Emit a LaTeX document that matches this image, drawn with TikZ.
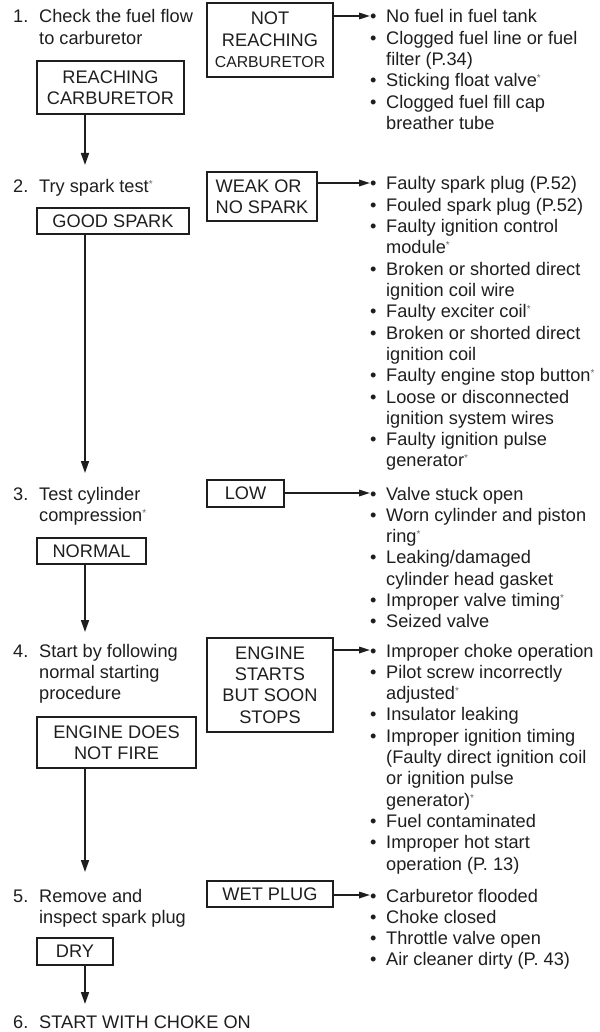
\documentclass[tikz,border=0pt]{standalone}
\usepackage{fontspec}
\setmainfont{Liberation Sans}
\usetikzlibrary{arrows.meta}
\definecolor{ink}{HTML}{1E1E1E}
\newcommand{\stsup}{\raisebox{5pt}{\textcolor{black!60}{\fontsize{10}{10}\selectfont *}}}
\newcommand{\snum}[1]{\makebox[26pt][l]{#1}}
\newcommand{\bl}{\makebox[16pt][l]{\textbullet}}
\begin{document}
\begin{tikzpicture}[x=1pt,y=-1pt,
  txt/.style={inner sep=0pt, text=ink, font=\fontsize{18.2}{21.3}\selectfont},
  box/.style={draw=ink, line width=1.9pt, inner sep=0pt, align=center, text=ink,
              font=\fontsize{18.2}{21.3}\selectfont},
  varr/.style={draw=ink, line width=1.6pt, -{Triangle[length=12pt,width=8pt]}},
  harr/.style={draw=ink, line width=1.6pt, -{Triangle[length=11pt,width=6.5pt]}}]
\useasboundingbox (0,0) rectangle (599,1032);

% ---------- step texts ----------
\node[txt, anchor=base west] (s1) at (13,23) {\begin{tabular}[t]{@{}l@{}l@{}}\snum{1.} & Check the fuel flow\\ & to carburetor\end{tabular}};
\node[txt, anchor=base west] (s2) at (13,193) {\begin{tabular}[t]{@{}l@{}l@{}}\snum{2.} & Try spark test\stsup\end{tabular}};
\node[txt, anchor=base west] (s3) at (13,500) {\begin{tabular}[t]{@{}l@{}l@{}}\snum{3.} & Test cylinder\\ & compression\stsup\end{tabular}};
\node[txt, anchor=base west] (s4) at (13,657) {\begin{tabular}[t]{@{}l@{}l@{}}\snum{4.} & Start by following\\ & normal starting\\ & procedure\end{tabular}};
\node[txt, anchor=base west] (s5) at (13,902) {\begin{tabular}[t]{@{}l@{}l@{}}\snum{5.} & Remove and\\ & inspect spark plug\end{tabular}};
\node[txt, anchor=base west] (s6) at (13,1028) {\snum{6.}START WITH CHOKE ON};

% ---------- left boxes ----------
\node[box, minimum width=147pt, minimum height=53pt] (reach) at (110.5,87.5) {REACHING\\CARBURETOR};
\node[box, minimum width=152pt, minimum height=26pt] (good) at (113,221) {GOOD SPARK};
\node[box, minimum width=109pt, minimum height=26pt] (normal) at (91.5,551) {NORMAL};
\node[box, minimum width=159pt, minimum height=51pt] (notfire) at (116.5,742.5) {ENGINE DOES\\NOT FIRE};
\node[box, minimum width=76pt, minimum height=27pt] (dry) at (75,951.5) {DRY};

% ---------- middle boxes ----------
\node[box, minimum width=126pt, minimum height=74pt] (notreach) at (270,40) {NOT\\REACHING\\{\fontsize{15.8}{18}\selectfont CARBURETOR}};
\node[box, minimum width=110pt, minimum height=49pt, align=left] (weak) at (262,196.5) {WEAK OR\\NO SPARK};
\node[box, minimum width=77pt, minimum height=27pt] (low) at (245.5,493.5) {LOW};
\node[box, minimum width=126pt, minimum height=94pt] (starts) at (270,685) {ENGINE\\STARTS\\BUT SOON\\STOPS};
\node[box, minimum width=126pt, minimum height=26pt] (wet) at (270,894) {WET PLUG};

% ---------- cause lists ----------
\node[txt, anchor=base west] (l1) at (370,23) {\begin{tabular}[t]{@{}l@{}l@{}}
\bl & No fuel in fuel tank\\
\bl & Clogged fuel line or fuel\\
 & filter (P.34)\\
\bl & Sticking float valve\stsup\\
\bl & Clogged fuel fill cap\\
 & breather tube\end{tabular}};
\node[txt, anchor=base west] (l2) at (370,190) {\begin{tabular}[t]{@{}l@{}l@{}}
\bl & Faulty spark plug (P.52)\\
\bl & Fouled spark plug (P.52)\\
\bl & Faulty ignition control\\
 & module\stsup\\
\bl & Broken or shorted direct\\
 & ignition coil wire\\
\bl & Faulty exciter coil\stsup\\
\bl & Broken or shorted direct\\
 & ignition coil\\
\bl & Faulty engine stop button\stsup\\
\bl & Loose or disconnected\\
 & ignition system wires\\
\bl & Faulty ignition pulse\\
 & generator\stsup\end{tabular}};
\node[txt, anchor=base west] (l3) at (370,500) {\begin{tabular}[t]{@{}l@{}l@{}}
\bl & Valve stuck open\\
\bl & Worn cylinder and piston\\
 & ring\stsup\\
\bl & Leaking/damaged\\
 & cylinder head gasket\\
\bl & Improper valve timing\stsup\\
\bl & Seized valve\end{tabular}};
\node[txt, anchor=base west] (l4) at (370,657) {\begin{tabular}[t]{@{}l@{}l@{}}
\bl & Improper choke operation\\
\bl & Pilot screw incorrectly\\
 & adjusted\stsup\\
\bl & Insulator leaking\\
\bl & Improper ignition timing\\
 & (Faulty direct ignition coil\\
 & or ignition pulse\\
 & generator)\stsup\\
\bl & Fuel contaminated\\
\bl & Improper hot start\\
 & operation (P. 13)\end{tabular}};
\node[txt, anchor=base west] (l5) at (370,902) {\begin{tabular}[t]{@{}l@{}l@{}}
\bl & Carburetor flooded\\
\bl & Choke closed\\
\bl & Throttle valve open\\
\bl & Air cleaner dirty (P. 43)\end{tabular}};

% ---------- connector end points ----------
\coordinate (a1) at (85,165);
\coordinate (a2) at (85,473);
\coordinate (a3) at (85,632);
\coordinate (a4) at (85,872);
\coordinate (a5) at (85,1004);
\coordinate (t1) at (370,16);
\coordinate (t2) at (370,183);
\coordinate (t3) at (370,493);
\coordinate (t4) at (370,650);
\coordinate (t5) at (370,895);

% ---------- connectors ----------
\draw[varr] (reach.south -| a1) -- (a1);
\draw[varr] (good.south -| a2) -- (a2);
\draw[varr] (normal.south -| a3) -- (a3);
\draw[varr] (notfire.south -| a4) -- (a4);
\draw[varr] (dry.south -| a5) -- (a5);
\draw[harr] (notreach.east |- t1) -- (t1);
\draw[harr] (weak.east |- t2) -- (t2);
\draw[harr] (low.east |- t3) -- (t3);
\draw[harr] (starts.east |- t4) -- (t4);
\draw[harr] (wet.east |- t5) -- (t5);
\end{tikzpicture}
\end{document}
